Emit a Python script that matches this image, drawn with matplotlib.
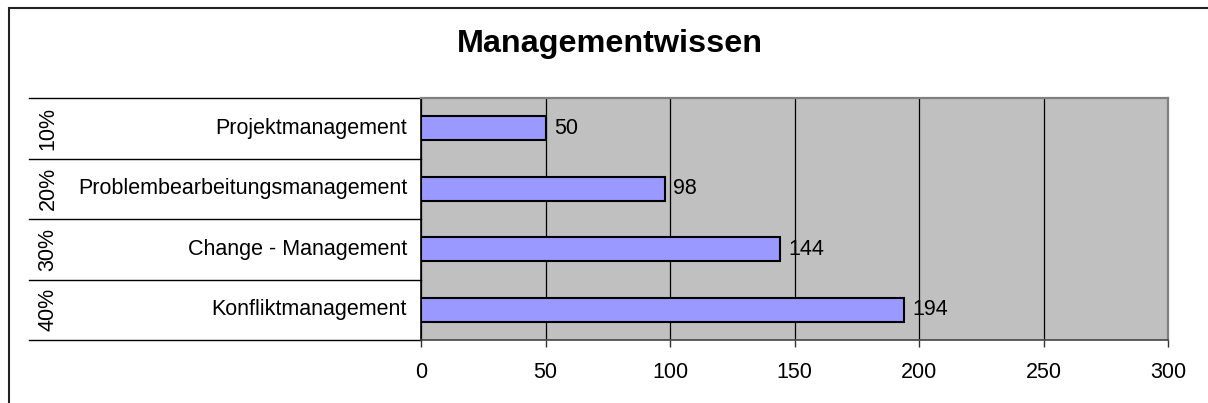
import matplotlib
matplotlib.use("Agg")
import matplotlib.pyplot as plt
import matplotlib.transforms as mtransforms
from matplotlib.patches import Rectangle

plt.rcParams['font.family'] = ['Liberation Sans', 'DejaVu Sans']

categories = ["Projektmanagement", "Problembearbeitungsmanagement",
              "Change - Management", "Konfliktmanagement"]
shares = ["10%", "20%", "30%", "40%"]
values = [50, 98, 144, 194]
xticks = [0, 50, 100, 150, 200, 250, 300]
title = "Managementwissen"

W, H = 1208, 403
fig = plt.figure(figsize=(W / 100, H / 100), dpi=100)
fig.patch.set_facecolor("white")

# outer chart frame
fig.patches.append(Rectangle((9 / W, -0.05), 1.2, 1 - 8 / H + 0.05,
                             transform=fig.transFigure, fill=False,
                             edgecolor="#222222", linewidth=1.5))

left, right, top, bottom = 421, 1168, 98, 340
ax = fig.add_axes([left / W, 1 - bottom / H, (right - left) / W, (bottom - top) / H])
ax.set_facecolor("#C0C0C0")

y = list(range(len(categories)))
ax.barh(y, values, height=0.4, color="#9999FF", edgecolor="black",
        linewidth=1.5, zorder=3)
for yi, v in zip(y, values):
    ax.annotate(str(v), (v, yi), xytext=(6, 0), textcoords="offset points",
                va="center", ha="left", fontsize=15.5, zorder=4)

ax.set_xlim(0, 300)
ax.set_ylim(len(categories) - 0.5, -0.5)
ax.set_xticks(xticks)
ax.set_xticklabels([str(t) for t in xticks], fontsize=15.5)
ax.xaxis.grid(True, color="black", linewidth=0.9, zorder=1)
ax.set_axisbelow(True)
ax.tick_params(axis="x", direction="out", length=5, width=1, color="#333333", pad=11)
ax.set_yticks([])

for s in ["top", "right"]:
    ax.spines[s].set_color("#808080")
    ax.spines[s].set_linewidth(1.6)
ax.spines["left"].set_color("black")
ax.spines["left"].set_linewidth(1.2)
ax.spines["bottom"].set_color("#444444")
ax.spines["bottom"].set_linewidth(1.2)

# category table on the left
trans = mtransforms.blended_transform_factory(fig.transFigure, ax.transData)
for b in [i - 0.5 for i in range(len(categories) + 1)]:
    ax.plot([29 / W, left / W], [b, b], transform=trans, color="black",
            linewidth=1.0, clip_on=False)
for yi, name, sh in zip(y, categories, shares):
    ax.text(407 / W, yi, name, transform=trans, ha="right", va="center", fontsize=15.5)
    ax.text(48 / W, yi, sh, transform=trans, ha="center", va="center",
            rotation=90, fontsize=15.5)

fig.text(610 / W, 1 - 44 / H, title, ha="center", va="center",
         fontsize=23.3, fontweight="bold")

fig.savefig("out.png", dpi=100)
